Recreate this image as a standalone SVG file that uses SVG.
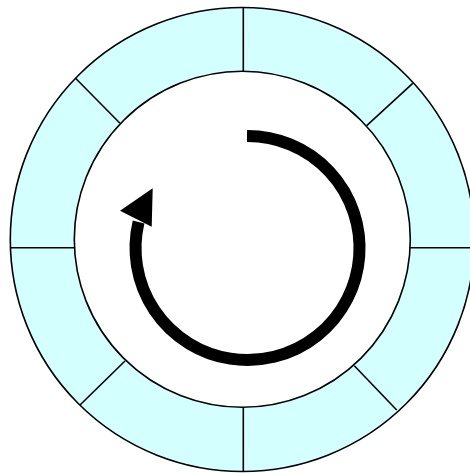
<svg xmlns="http://www.w3.org/2000/svg" width="470" height="473" viewBox="0 0 470 473">
<style>
.ring{fill:#d4ffff;stroke:#000;stroke-width:1.6}
.hole{fill:#fff;stroke:#000;stroke-width:1.6}
.spoke{stroke:#000;stroke-width:1.6;fill:none}
.arc{fill:none;stroke:#000;stroke-width:12;stroke-linecap:butt}
</style>
<rect width="470" height="473" fill="#fff"/>
<g id="ring">
<circle class="ring" cx="242.3" cy="239.5" r="232"/>
<circle class="hole" cx="242.3" cy="239.3" r="168"/>
</g>
<g id="spokes">
<line class="spoke" x1="243.3" y1="7.5" x2="243.3" y2="71.3"/>
<line class="spoke" x1="243.3" y1="407.2" x2="243.3" y2="471.5"/>
<line class="spoke" x1="10.4" y1="247.7" x2="74.5" y2="247.7"/>
<line class="spoke" x1="410.1" y1="247.7" x2="474" y2="247.7"/>
<line class="spoke" x1="75.3" y1="78" x2="120" y2="123.3"/>
<line class="spoke" x1="412.7" y1="83.3" x2="366.7" y2="125.7"/>
<line class="spoke" x1="80" y1="405" x2="125" y2="361"/>
<line class="spoke" x1="354.3" y1="365.7" x2="396.7" y2="410"/>
</g>
<g id="arrow">
<path class="arc" d="M247,136 A112,112 0 1 1 138.6,222"/>
<polygon points="120,210.7 152.7,188.3 151.7,226.7" fill="#000"/>
</g>
</svg>
